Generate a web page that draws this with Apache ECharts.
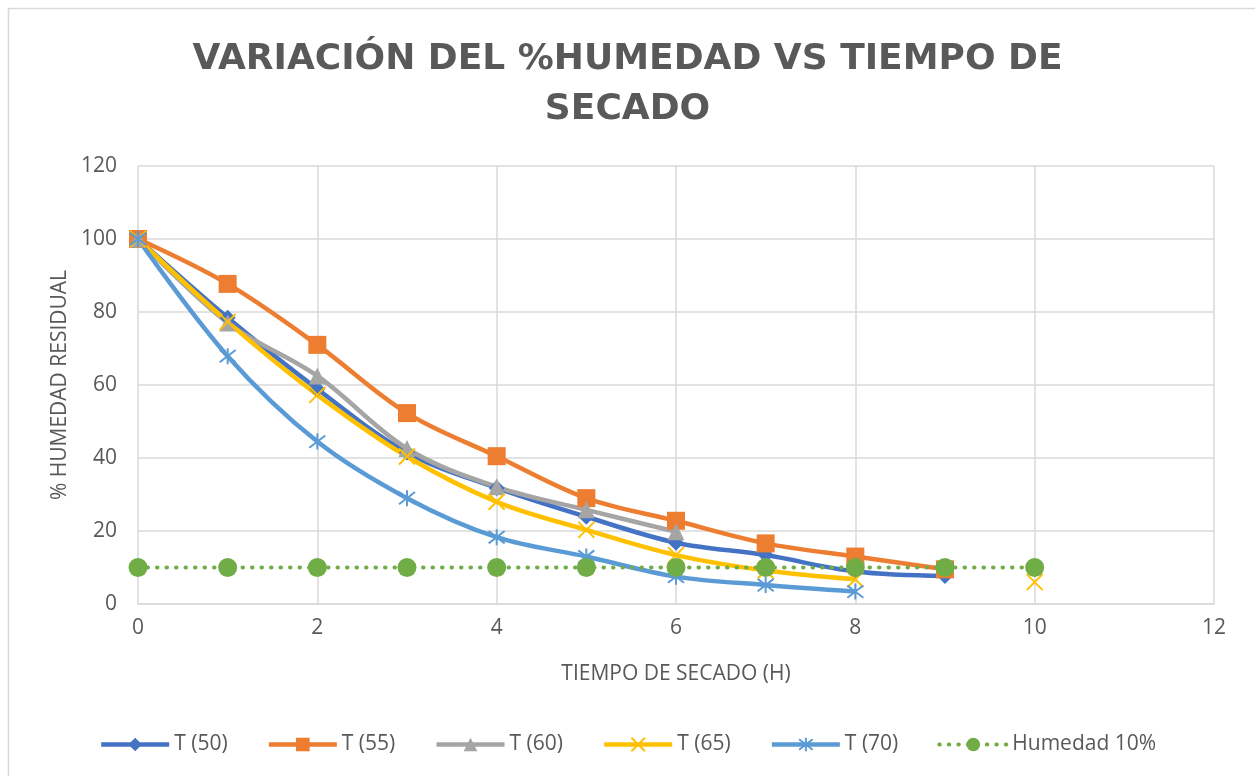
<!DOCTYPE html>
<html>
<head>
<meta charset="utf-8">
<script src="https://cdn.jsdelivr.net/npm/echarts@6/dist/echarts.min.js"></script>
<style>
  html, body { margin: 0; padding: 0; background: #fff; }
  #chart { width: 1255px; height: 776px; }
</style>
</head>
<body>
<div id="chart"></div>
<script>
const hours = [0, 1, 2, 3, 4, 5, 6, 7, 8, 9, 10];
const t50 = [100, 78.4, 58.9, 41.5, 31.8, 23.9, 16.8, 13.4, 8.9, 7.7, null];
const t55 = [100, 87.7, 71, 52.3, 40.5, 29, 22.8, 16.6, 13, 9.5, null];
const t60 = [100, 77, 62.5, 42.6, 32.1, 25.8, 19.8, null, null, null, null];
const t65 = [100, 77.3, 57.3, 40.4, 28, 20.3, 13.4, 9.2, 6.8, null, 6];
const t70 = [100, 67.9, 44.5, 29, 18.3, 13, 7.5, 5.2, 3.4, null, null];
const humedad = [10, 10, 10, 10, 10, 10, 10, 10, 10, 10, 10];

const xTicks = [0, 2, 4, 6, 8, 10, 12];

const txt = '#595959';
const gridCol = '#D9D9D9';
const font = 'Open Sans';

function pairs(vals) {
    return hours.map((h, i) => [h, vals[i]]);
}

const crossPath = 'path://M0,0L10,10M10,0L0,10';
const starPath = 'path://M0,0L10,10M10,0L0,10M5,-1.5L5,11.5';

function lineSeries(name, vals, color, symbol, size, strokeSym) {
    return {
        name: name,
        type: 'line',
        data: pairs(vals),
        smooth: 0.35,
        connectNulls: false,
        symbol: symbol,
        symbolSize: size,
        showAllSymbol: true,
        lineStyle: { color: color, width: 4.5 },
        itemStyle: strokeSym
            ? { color: 'rgba(0,0,0,0)', borderColor: color, borderWidth: 2 }
            : { color: color, borderColor: color, borderWidth: 0 },
        emphasis: { disabled: true }
    };
}

const series = [
    lineSeries('T (50)', t50, '#4472C4', 'diamond', 16, false),
    lineSeries('T (55)', t55, '#ED7D31', 'rect', 18, false),
    lineSeries('T (60)', t60, '#A5A5A5', 'triangle', 17, false),
    lineSeries('T (65)', t65, '#FFC000', crossPath, 16, true),
    lineSeries('T (70)', t70, '#5B9BD5', starPath, 16, true),
    {
        name: 'Humedad 10%',
        type: 'line',
        data: pairs(humedad),
        symbol: 'circle',
        symbolSize: 19,
        lineStyle: { color: '#70AD47', width: 4, type: [0.5, 9], cap: 'round' },
        itemStyle: { color: '#70AD47' },
        emphasis: { disabled: true }
    }
];

const chart = echarts.init(document.getElementById('chart'), null, { renderer: 'canvas' });

const option = {
    backgroundColor: '#fff',
    animation: false,
    graphic: [{
        type: 'rect',
        shape: { x: 8.5, y: 8.5, width: 1260, height: 780 },
        style: { fill: 'none', stroke: '#D9D9D9', lineWidth: 1.5 },
        silent: true
    }],
    title: {
        text: 'VARIACIÓN DEL %HUMEDAD VS TIEMPO DE\nSECADO',
        left: 'center',
        top: 30,
        textStyle: {
            fontFamily: 'DejaVu Sans',
            fontSize: 36,
            fontWeight: 'bold',
            color: txt,
            lineHeight: 50
        }
    },
    grid: { left: 138, right: 41, top: 166, bottom: 172, containLabel: false },
    legend: {
        top: 729,
        left: 'center',
        itemWidth: 68,
        itemHeight: 17,
        itemGap: 39,
        lineStyle: { width: 'inherit' },
        textStyle: { fontFamily: font, fontSize: 21, color: txt },
        data: series.map(s => s.name)
    },
    xAxis: {
        type: 'value',
        min: 0,
        max: 12,
        interval: 2,
        name: 'TIEMPO DE SECADO (H)',
        nameLocation: 'middle',
        nameGap: 60,
        nameTextStyle: { fontFamily: font, fontSize: 21, color: txt },
        axisLine: { show: true, lineStyle: { color: gridCol, width: 1.5 } },
        axisTick: { show: false },
        axisLabel: {
            fontFamily: font, fontSize: 21, color: txt, margin: 14,
            formatter: v => xTicks.includes(v) ? String(v) : ''
        },
        splitLine: { show: true, lineStyle: { color: gridCol, width: 1.5 } }
    },
    yAxis: {
        type: 'value',
        min: 0,
        max: 120,
        interval: 20,
        name: '% HUMEDAD RESIDUAL',
        nameLocation: 'middle',
        nameGap: 64,
        nameTextStyle: { fontFamily: font, fontSize: 21, color: txt },
        axisLine: { show: false },
        axisTick: { show: false },
        axisLabel: { fontFamily: font, fontSize: 21, color: txt, margin: 21 },
        splitLine: { show: true, lineStyle: { color: gridCol, width: 1.5 } }
    },
    series: series
};

chart.setOption(option);
</script>
</body>
</html>
